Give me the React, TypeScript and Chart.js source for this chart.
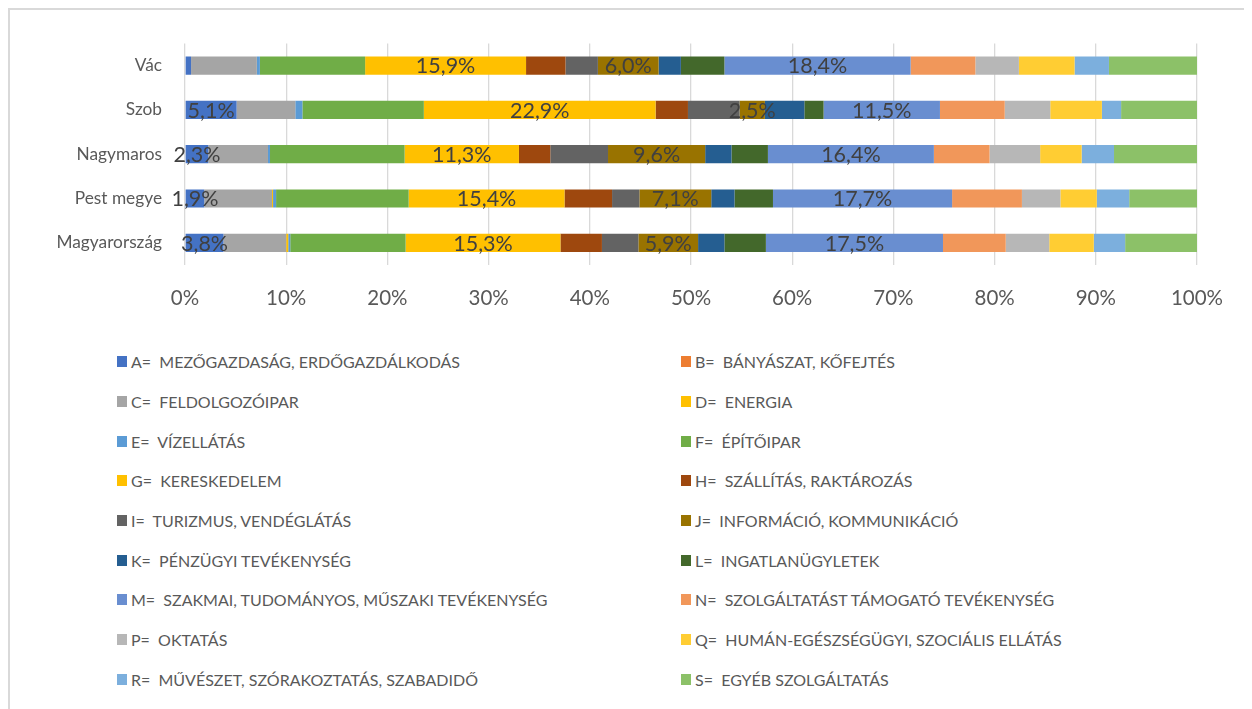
import React, { useEffect, useRef } from "react";
import { Chart, registerables } from "chart.js";

Chart.register(...registerables);

const categories = ["Vác", "Szob", "Nagymaros", "Pest megye", "Magyarország"];

const sectorCodes = ["A", "B", "C", "D", "E", "F", "G", "H", "I", "J", "K", "L", "M", "N", "P", "Q", "R", "S"];

const sectorNames = [
  "A=  MEZŐGAZDASÁG, ERDŐGAZDÁLKODÁS",
  "B=  BÁNYÁSZAT, KŐFEJTÉS",
  "C=  FELDOLGOZÓIPAR",
  "D=  ENERGIA",
  "E=  VÍZELLÁTÁS",
  "F=  ÉPÍTŐIPAR",
  "G=  KERESKEDELEM",
  "H=  SZÁLLÍTÁS, RAKTÁROZÁS",
  "I=  TURIZMUS, VENDÉGLÁTÁS",
  "J=  INFORMÁCIÓ, KOMMUNIKÁCIÓ",
  "K=  PÉNZÜGYI TEVÉKENYSÉG",
  "L=  INGATLANÜGYLETEK",
  "M=  SZAKMAI, TUDOMÁNYOS, MŰSZAKI TEVÉKENYSÉG",
  "N=  SZOLGÁLTATÁST TÁMOGATÓ TEVÉKENYSÉG",
  "P=  OKTATÁS",
  "Q=  HUMÁN-EGÉSZSÉGÜGYI, SZOCIÁLIS ELLÁTÁS",
  "R=  MŰVÉSZET, SZÓRAKOZTATÁS, SZABADIDŐ",
  "S=  EGYÉB SZOLGÁLTATÁS",
];

const sectorColors = [
  "#4472C4", "#ED7D31", "#A5A5A5", "#FFC000", "#5B9BD5", "#70AD47",
  "#FFC000", "#9E480E", "#636363", "#997300", "#255E91", "#43682B",
  "#698ED0", "#F1975A", "#B7B7B7", "#FFCD33", "#7CAFDD", "#8CC168",
];

// values per category: Vác, Szob, Nagymaros, Pest megye, Magyarország (%)
const valA = [0.6, 5.1, 2.3, 1.9, 3.8];
const valB = [0, 0, 0, 0, 0];
const valC = [6.5, 5.8, 5.9, 6.7, 6.2];
const valD = [0, 0, 0, 0.1, 0.2];
const valE = [0.3, 0.7, 0.2, 0.3, 0.2];
const valF = [10.4, 12.0, 13.3, 13.1, 11.4];
const valG = [15.9, 22.9, 11.3, 15.4, 15.3];
const valH = [3.9, 3.2, 3.1, 4.7, 4.1];
const valI = [3.2, 5.1, 5.7, 2.7, 3.6];
const valJ = [6.0, 2.5, 9.6, 7.1, 5.9];
const valK = [2.2, 3.9, 2.6, 2.3, 2.6];
const valL = [4.3, 1.9, 3.6, 3.8, 4.1];
const valM = [18.4, 11.5, 16.4, 17.7, 17.5];
const valN = [6.4, 6.4, 5.5, 6.9, 6.2];
const valP = [4.3, 4.5, 5.0, 3.8, 4.3];
const valQ = [5.5, 5.1, 4.1, 3.6, 4.4];
const valR = [3.4, 1.9, 3.2, 3.2, 3.1];
const valS = [8.7, 7.5, 8.2, 6.7, 7.1];

const seriesValues = [valA, valB, valC, valD, valE, valF, valG, valH, valI, valJ, valK, valL, valM, valN, valP, valQ, valR, valS];

const labeledSeries = ["A", "G", "J", "M"];

const xTicks = [0, 10, 20, 30, 40, 50, 60, 70, 80, 90, 100];

const FONT = "Lato, 'Liberation Sans', sans-serif";

const labelPlugin = {
  id: "segmentLabels",
  afterDatasetsDraw(chart: any) {
    const ctx = chart.ctx;
    ctx.save();
    ctx.font = `21.5px ${FONT}`;
    ctx.fillStyle = "#404040";
    ctx.textAlign = "center";
    ctx.textBaseline = "middle";
    chart.data.datasets.forEach((ds: any, di: number) => {
      if (!labeledSeries.includes(ds.code)) return;
      const meta = chart.getDatasetMeta(di);
      meta.data.forEach((el: any, i: number) => {
        const v = ds.data[i];
        if (v < 1) return;
        const cx = (el.x + el.base) / 2;
        ctx.fillText(v.toFixed(1).replace(".", ",") + "%", cx, el.y + 1);
      });
    });
    ctx.restore();
  },
};

export default function App() {
  const canvasRef = useRef<HTMLCanvasElement | null>(null);

  useEffect(() => {
    if (!canvasRef.current) return;
    const chart = new Chart(canvasRef.current, {
      type: "bar",
      data: {
        labels: categories,
        datasets: sectorCodes.map((code, i) => ({
          code,
          label: sectorNames[i],
          data: seriesValues[i],
          backgroundColor: sectorColors[i],
          borderWidth: 0,
          categoryPercentage: 1,
          barPercentage: 0.41,
        })) as any,
      },
      options: {
        indexAxis: "y",
        animation: false,
        responsive: true,
        maintainAspectRatio: false,
        layout: { padding: { top: 27, right: 55, bottom: 0, left: 0 } },
        plugins: { legend: { display: false }, tooltip: { enabled: false } },
        scales: {
          x: {
            stacked: true,
            min: 0,
            max: 100,
            afterBuildTicks: (scale: any) => {
              scale.ticks = xTicks.map((v) => ({ value: v }));
            },
            afterFit: (scale: any) => {
              scale.height = 65;
            },
            grid: { color: "#d9d9d9", lineWidth: 1.3, drawTicks: false },
            border: { display: false },
            ticks: {
              padding: 21,
              color: "#595959",
              font: { family: FONT, size: 20.5 },
              callback: (v: any) => v + "%",
            },
          },
          y: {
            stacked: true,
            afterFit: (scale: any) => {
              scale.width = 175;
            },
            grid: { display: false, drawTicks: false },
            border: { display: false },
            ticks: {
              padding: 23,
              color: "#595959",
              font: { family: FONT, size: 17.3 },
            },
          },
        },
      },
      plugins: [labelPlugin],
    });
    return () => chart.destroy();
  }, []);

  return (
    <div
      style={{
        position: "relative",
        width: 1244,
        height: 701,
        boxSizing: "border-box",
        borderTop: "2px solid #d9d9d9",
        borderLeft: "2px solid #d9d9d9",
        background: "#fff",
        overflow: "hidden",
      }}
    >
      <div style={{ position: "absolute", left: 0, top: 0, width: 1242, height: 320 }}>
        <canvas ref={canvasRef} />
      </div>
      {sectorNames.map((name, i) => {
        const col = i % 2;
        const row = Math.floor(i / 2);
        const left = col === 0 ? 107 : 671;
        const centerY = 351.7 + row * 39.7;
        return (
          <div
            key={sectorCodes[i]}
            style={{
              position: "absolute",
              left,
              top: centerY - 14,
              height: 28,
              display: "flex",
              alignItems: "center",
              whiteSpace: "pre",
              fontFamily: FONT,
              fontSize: 16,
              color: "#595959",
            }}
          >
            <span style={{ display: "inline-block", width: 10, height: 11, background: sectorColors[i], marginRight: 4 }} />
            <span>{name}</span>
          </div>
        );
      })}
    </div>
  );
}
